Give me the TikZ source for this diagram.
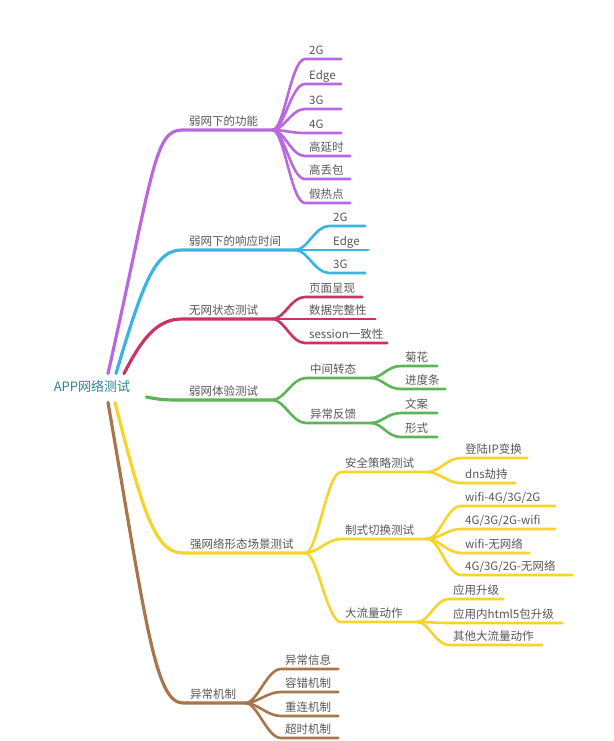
\documentclass[tikz,border=0pt]{standalone}
\usepackage{fontspec}
\newfontfamily\cjk{Noto Sans CJK SC}
\definecolor{mmpurple}{RGB}{186,104,222}
\definecolor{mmblue}{RGB}{58,180,226}
\definecolor{mmred}{RGB}{200,52,100}
\definecolor{mmgreen}{RGB}{92,182,88}
\definecolor{mmyellow}{RGB}{246,212,40}
\definecolor{mmbrown}{RGB}{168,118,74}
\definecolor{mmtext}{RGB}{88,88,88}
\definecolor{mmteal}{RGB}{46,132,150}
\tikzset{
  topic/.style={anchor=south west,font=\cjk\fontsize{11.5}{13}\selectfont,text=mmtext,inner xsep=7pt,inner ysep=0pt,text height=9pt,text depth=4pt,align=left,text width=#1,
    execute at begin node={\exhyphenpenalty=10000\hyphenpenalty=10000}},
  leaf/.style={topic=#1,inner xsep=4pt},
  mmline/.style={line width=2.6pt,line cap=round,line join=round},
  mmfan/.style={to path={.. controls +(12,0) and +(-14,0) .. (\tikztotarget)}}
}
\begin{document}
\begin{tikzpicture}[x=1pt,y=-1pt]
  \fill[white] (0,0) rectangle (613,741);
  \useasboundingbox (0,0) rectangle (613,741);
  \node[font=\cjk\fontsize{13}{15}\selectfont,text=mmteal,inner xsep=6pt,inner ysep=8.5pt,text height=9.5pt,text depth=2pt] (root) at (92,388) {APP网络测试};

  \node[topic=76pt] (f1) at (182,130) {弱网下的功能};
  \node[topic=99pt] (f2) at (182,250) {弱网下的响应时间};
  \node[topic=76pt] (f3) at (182,319) {无网状态测试};
  \node[topic=76pt] (f4) at (182,400) {弱网体验测试};
  \node[topic=108pt] (f5) at (183,553) {强网络形态场景测试};
  \node[topic=48pt] (f6) at (183,703) {异常机制};

  \node[leaf=28pt] (a1) at (305,59) {2G};
  \node[leaf=28pt] (a2) at (305,84) {Edge};
  \node[leaf=28pt] (a3) at (305,109) {3G};
  \node[leaf=28pt] (a4) at (305,133) {4G};
  \node[leaf=37pt] (a5) at (305,156) {高延时};
  \node[leaf=37pt] (a6) at (305,179) {高丢包};
  \node[leaf=37pt] (a7) at (305,203) {假热点};

  \node[leaf=28pt] (b1) at (329,226) {2G};
  \node[leaf=31pt] (b2) at (329,250) {Edge};
  \node[leaf=28pt] (b3) at (329,273) {3G};

  \node[leaf=49pt] (c1) at (305,297) {页面呈现};
  \node[leaf=62pt] (c2) at (305,319) {数据完整性};
  \node[leaf=74pt] (c3) at (305,343) {session一致性};

  \node[leaf=56pt] (d1) at (306,378) {中间转态};
  \node[leaf=56pt] (d2) at (306,423) {异常反馈};
  \node[leaf=28pt] (d11) at (401,366) {菊花};
  \node[leaf=36pt] (d12) at (401,389) {进度条};
  \node[leaf=28pt] (d21) at (401,413) {文案};
  \node[leaf=28pt] (d22) at (401,437) {形式};

  \node[leaf=78pt] (e1) at (341,472) {安全策略测试};
  \node[leaf=78pt] (e2) at (341,539) {制式切换测试};
  \node[leaf=68pt] (e3) at (341,622) {大流量动作};
  \node[leaf=58pt] (e11) at (461,458) {登陆IP变换};
  \node[leaf=46pt] (e12) at (461,483) {dns劫持};
  \node[leaf=86pt] (e21) at (461,506) {wifi-4G/3G/2G};
  \node[leaf=86pt] (e22) at (461,529) {4G/3G/2G-wifi};
  \node[leaf=60pt] (e23) at (461,553) {wifi-无网络};
  \node[leaf=103pt] (e24) at (461,575) {4G/3G/2G-无网络};
  \node[leaf=46pt] (e31) at (449,599) {应用升级};
  \node[leaf=105pt] (e32) at (449,623) {应用内html5包升级};
  \node[leaf=85pt] (e33) at (449,645) {其他大流量动作};

  \node[leaf=49pt] (g1) at (281,669) {异常信息};
  \node[leaf=49pt] (g2) at (281,692) {容错机制};
  \node[leaf=49pt] (g3) at (281,716) {重连机制};
  \node[leaf=49pt] (g4) at (281,738) {超时机制};

  \draw[mmline,line width=3.2pt,mmpurple] ([xshift=16pt]root.north) .. controls +(45,-200) and +(-28,0) .. (f1.south west) -- (f1.south east);
  \draw[mmline,line width=3.2pt,mmblue] ([xshift=24pt]root.north) .. controls +(28,-95) and +(-26,0) .. (f2.south west) -- (f2.south east);
  \draw[mmline,line width=3.2pt,mmred] ([xshift=32pt]root.north) .. controls +(18,-35) and +(-25,0) .. (f3.south west) -- (f3.south east);
  \draw[mmline,line width=3.2pt,mmgreen] ([xshift=10pt,yshift=-9pt]root.east) .. controls +(15,3) and +(-15,0) .. (f4.south west) -- (f4.south east);
  \draw[mmline,line width=3.2pt,mmyellow] ([xshift=23pt]root.south) .. controls +(28,110) and +(-28,0) .. (f5.south west) -- (f5.south east);
  \draw[mmline,line width=3.2pt,mmbrown] ([xshift=16pt]root.south) .. controls +(38,220) and +(-28,0) .. (f6.south west) -- (f6.south east);

  \foreach \n in {a1,a2,a3,a4,a5,a6,a7}
    \draw[mmline,mmpurple] (f1.south east) to[mmfan] (\n.south west) -- (\n.south east);
  \foreach \n in {b1,b2,b3}
    \draw[mmline,mmblue] (f2.south east) to[mmfan] (\n.south west) -- (\n.south east);
  \foreach \n in {c1,c2,c3}
    \draw[mmline,mmred] (f3.south east) to[mmfan] (\n.south west) -- (\n.south east);
  \foreach \n in {d1,d2}
    \draw[mmline,mmgreen] (f4.south east) to[mmfan] (\n.south west) -- (\n.south east);
  \foreach \n in {d11,d12}
    \draw[mmline,mmgreen] (d1.south east) to[mmfan] (\n.south west) -- (\n.south east);
  \foreach \n in {d21,d22}
    \draw[mmline,mmgreen] (d2.south east) to[mmfan] (\n.south west) -- (\n.south east);
  \foreach \n in {e1,e2,e3}
    \draw[mmline,mmyellow] (f5.south east) to[mmfan] (\n.south west) -- (\n.south east);
  \foreach \n in {e11,e12}
    \draw[mmline,mmyellow] (e1.south east) to[mmfan] (\n.south west) -- (\n.south east);
  \foreach \n in {e21,e22,e23,e24}
    \draw[mmline,mmyellow] (e2.south east) to[mmfan] (\n.south west) -- (\n.south east);
  \foreach \n in {e31,e32,e33}
    \draw[mmline,mmyellow] (e3.south east) to[mmfan] (\n.south west) -- (\n.south east);
  \foreach \n in {g1,g2,g3,g4}
    \draw[mmline,mmbrown] (f6.south east) to[mmfan] (\n.south west) -- (\n.south east);
\end{tikzpicture}
\end{document}
